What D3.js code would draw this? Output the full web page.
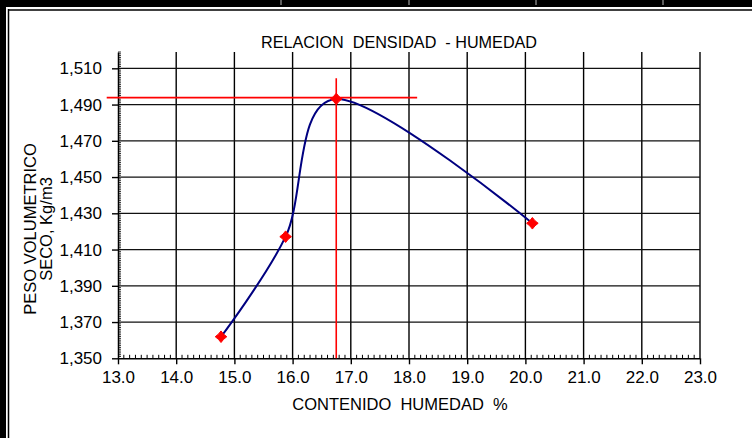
<!DOCTYPE html>
<html>
<head>
<meta charset="utf-8">
<script src="https://cdn.jsdelivr.net/npm/d3@7"></script>
<style>
  html, body { margin: 0; padding: 0; background: #fff; }
  svg { display: block; }
  text { font-family: "Liberation Sans", Arial, sans-serif; fill: #000; }
</style>
</head>
<body>
<svg id="chart" width="752" height="438"></svg>
<script>
// Compaction test: moisture content (%) vs dry unit weight (kg/m3)
const humedad = [14.77, 15.88, 16.75, 20.12];
const densidad = [1361.9, 1417.1, 1493.1, 1424.5];

// Optimum moisture / maximum dry density guide lines
const humedadOptima = 16.75;
const densidadMaxima = 1493.8;

const xTicks = [13, 14, 15, 16, 17, 18, 19, 20, 21, 22, 23];
const yTicks = [1350, 1370, 1390, 1410, 1430, 1450, 1470, 1490, 1510];

const titulo = "RELACION  DENSIDAD  - HUMEDAD";
const tituloX = "CONTENIDO  HUMEDAD  %";
const tituloY = ["PESO VOLUMETRICO", "SECO, Kg/m3"];

const svg = d3.select("#chart");

// Sheet frame around the chart
svg.append("rect").attr("x", 0).attr("y", 0).attr("width", 752).attr("height", 7).attr("fill", "#000");
[281, 409, 536, 663].forEach(px => {
  svg.append("line").attr("x1", px).attr("x2", px).attr("y1", 0).attr("y2", 5)
    .attr("stroke", "#bbb").attr("stroke-width", 1);
});
svg.append("rect").attr("x", 0).attr("y", 0).attr("width", 6).attr("height", 438).attr("fill", "#000");
svg.append("line").attr("x1", 8.5).attr("x2", 8.5).attr("y1", 9).attr("y2", 438)
  .attr("stroke", "#000").attr("stroke-width", 1.5);
svg.append("line").attr("x1", 8).attr("x2", 752).attr("y1", 10).attr("y2", 10)
  .attr("stroke", "#000").attr("stroke-width", 1.5);

const x = d3.scaleLinear().domain([13, 23]).range([118, 700]);
const y = d3.scaleLinear().domain([1350, 1519]).range([358.3, 52]);
const yTop = 1519;

// Grid
const grid = svg.append("g");
grid.selectAll(".gx").data(xTicks.slice(1)).join("line")
  .attr("x1", d => x(d)).attr("x2", d => x(d))
  .attr("y1", y(yTop)).attr("y2", y(1350))
  .attr("stroke", "#000").attr("stroke-width", 1.4);
grid.selectAll(".gy").data(yTicks.slice(1)).join("line")
  .attr("x1", x(13)).attr("x2", x(23))
  .attr("y1", d => y(d)).attr("y2", d => y(d))
  .attr("stroke", "#111").attr("stroke-width", 1.3);

// Minor ticks (inside)
const minorX = d3.range(130, 230).map(v => v / 10).filter(v => Math.abs(v - Math.round(v)) > 1e-6);
svg.append("g").selectAll("line").data(minorX).join("line")
  .attr("x1", d => x(d)).attr("x2", d => x(d))
  .attr("y1", y(1350)).attr("y2", y(1350) - 3.5)
  .attr("stroke", "#000").attr("stroke-width", 1);
const minorY = d3.range(1351, yTop + 1).filter(v => (v - 1350) % 20 !== 0);
svg.append("g").selectAll("line").data(minorY).join("line")
  .attr("x1", x(13)).attr("x2", x(13) + 3)
  .attr("y1", d => y(d)).attr("y2", d => y(d))
  .attr("stroke", "#000").attr("stroke-width", 0.8);

// Axes
const xAxis = d3.axisBottom(x).tickValues(xTicks).tickFormat(d3.format(".1f"))
  .tickSize(6).tickSizeOuter(0).tickPadding(7);
const gx = svg.append("g").attr("transform", `translate(0,${y(1350)})`).call(xAxis);
gx.select(".domain").attr("stroke", "#000").attr("stroke-width", 1.5);
gx.selectAll(".tick line").attr("stroke", "#000").attr("stroke-width", 1.4);
gx.selectAll(".tick text").attr("font-size", 17).attr("font-family", "Liberation Sans, Arial, sans-serif");

const yAxis = d3.axisLeft(y).tickValues(yTicks).tickFormat(d3.format(",d"))
  .tickSize(6).tickSizeOuter(0).tickPadding(10);
const gy = svg.append("g").attr("transform", `translate(${x(13)},0)`).call(yAxis);
gy.select(".domain").attr("stroke", "#000").attr("stroke-width", 1.5);
gy.selectAll(".tick line").attr("stroke", "#000").attr("stroke-width", 1.4);
gy.selectAll(".tick text").attr("font-size", 17).attr("font-family", "Liberation Sans, Arial, sans-serif");

// Guide lines
const guia = svg.append("g").attr("stroke", "#ff0000").attr("stroke-width", 1.6);
guia.append("line")
  .attr("x1", x(12.806)).attr("x2", x(18.14))
  .attr("y1", y(densidadMaxima)).attr("y2", y(densidadMaxima));
guia.append("line")
  .attr("x1", x(humedadOptima)).attr("x2", x(humedadOptima))
  .attr("y1", y(1504.5)).attr("y2", y(1350));

// Smoothed compaction curve
const puntos = humedad.map((h, i) => [h, densidad[i]]);
const linea = d3.line().x(d => x(d[0])).y(d => y(d[1])).curve(d3.curveCardinal.tension(0));
svg.append("path").datum(puntos)
  .attr("d", linea)
  .attr("fill", "none").attr("stroke", "#000080").attr("stroke-width", 2);

// Markers
const star = "M0,-5.8L2.6,-2.6L5.8,0L2.6,2.6L0,5.8L-2.6,2.6L-5.8,0L-2.6,-2.6Z";
svg.append("g").selectAll("path").data(puntos).join("path")
  .attr("transform", d => `translate(${x(d[0])},${y(d[1])})`)
  .attr("d", star).attr("fill", "#ff0000").attr("stroke", "#ff0000").attr("stroke-width", 1);

// Titles
svg.append("text").attr("x", 399).attr("y", 48).attr("text-anchor", "middle")
  .attr("font-size", 16.2).attr("xml:space", "preserve").style("white-space", "pre").text(titulo);
svg.append("text").attr("x", 400).attr("y", 410).attr("text-anchor", "middle")
  .attr("font-size", 16.5).attr("xml:space", "preserve").style("white-space", "pre").text(tituloX);
const ty = svg.append("text").attr("transform", "translate(36,229) rotate(-90)")
  .attr("text-anchor", "middle").attr("font-size", 16.5);
ty.append("tspan").attr("x", 0).attr("dy", 0).text(tituloY[0]);
ty.append("tspan").attr("x", 0).attr("dy", 16).text(tituloY[1]);
</script>
</body>
</html>
